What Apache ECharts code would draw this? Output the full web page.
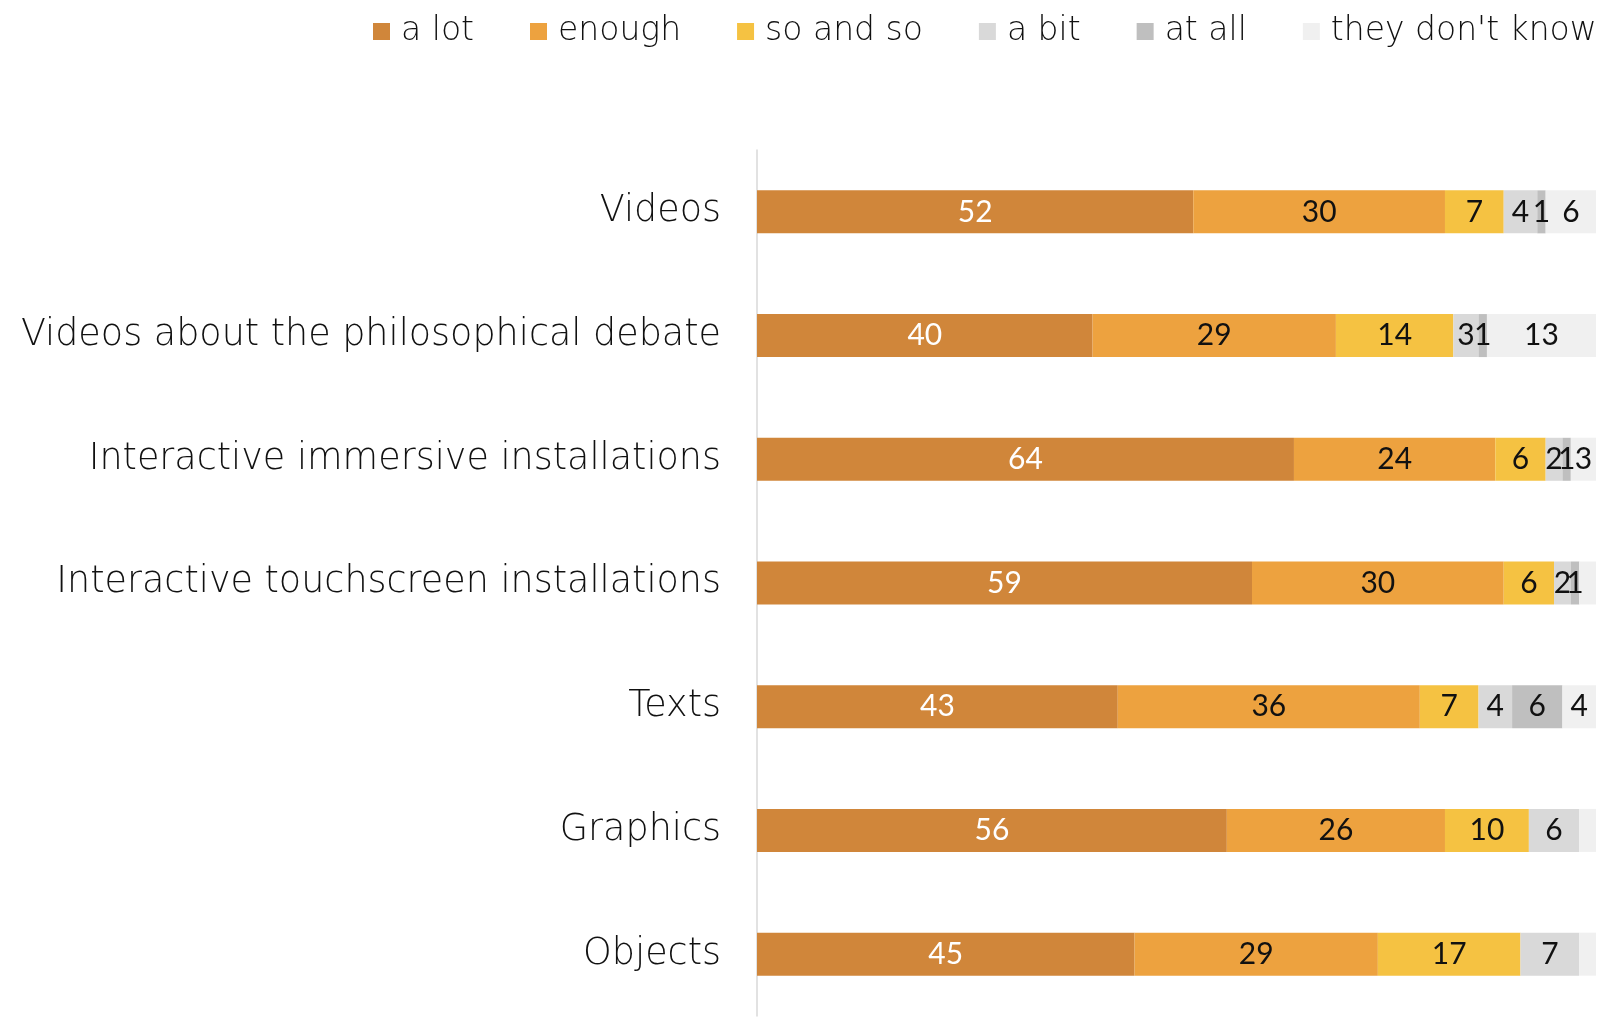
<!DOCTYPE html>
<html>
<head>
<meta charset="utf-8">
<script src="https://cdn.jsdelivr.net/npm/echarts@6/dist/echarts.min.js"></script>
<style>
  html, body { margin: 0; padding: 0; background: #fff; }
  #myCharts { width: 1604px; height: 1036px; }
</style>
</head>
<body>
<div id="myCharts"></div>
<script>
// categories, top to bottom
const categories = [
  "Videos",
  "Videos about the philosophical debate",
  "Interactive immersive installations",
  "Interactive touchscreen installations",
  "Texts",
  "Graphics",
  "Objects"
];
const seriesNames = ["a lot", "enough", "so and so", "a bit", "at all", "they don't know"];
const aLot = [52, 40, 64, 59, 43, 56, 45];
const enough = [30, 29, 24, 30, 36, 26, 29];
const soAndSo = [7, 14, 6, 6, 7, 10, 17];
const aBit = [4, 3, 2, 2, 4, 6, 7];
const atAll = [1, 1, 1, 1, 6, 0, 0];
const dontKnow = [6, 13, 3, 2, 4, 2, 2];
// segments drawn without a number in the original
const hiddenLabels = [[3, 5], [5, 5], [6, 5]];

const colors = ["#D0863A", "#EDA23F", "#F5C242", "#D9D9D9", "#BFBFBF", "#F0F0F0"];
const values = [aLot, enough, soAndSo, aBit, atAll, dontKnow];

const myCharts = echarts.init(document.getElementById("myCharts"));

const series = values.map((vals, s) => ({
  name: seriesNames[s],
  type: "bar",
  stack: "total",
  barWidth: 43,
  itemStyle: { color: colors[s] },
  label: {
    show: true,
    position: "inside",
    color: s === 0 ? "#fff" : "#111",
    fontFamily: "Lato",
    fontSize: 30,
    formatter: (p) => (p.value === 0 ? "" : p.value)
  },
  data: vals.map((v, i) => {
    const hide = hiddenLabels.some((h) => h[0] === i && h[1] === s);
    return hide ? { value: v, label: { show: false } } : v;
  })
}));

const options = {
  animation: false,
  color: colors,
  legend: {
    top: 10,
    left: 368,
    itemWidth: 17,
    itemHeight: 17,
    itemGap: 56,
    icon: "rect",
    textStyle: { fontSize: 33, color: "#111", fontFamily: "DejaVu Sans", fontWeight: 300, padding: [0, 0, 0, 6] },
    data: seriesNames
  },
  grid: {
    left: 757,
    right: 8,
    top: 150,
    bottom: 20
  },
  xAxis: {
    type: "value",
    min: 0,
    max: 100,
    show: false
  },
  yAxis: {
    type: "category",
    inverse: true,
    data: categories,
    axisTick: { show: false },
    axisLine: { show: true, lineStyle: { color: "#d9d9d9", width: 1.5 } },
    axisLabel: {
      margin: 36,
      fontSize: 36.5,
      color: "#111",
      fontFamily: "DejaVu Sans",
      fontWeight: 300
    }
  },
  series: series
};

myCharts.setOption(options);
</script>
</body>
</html>
